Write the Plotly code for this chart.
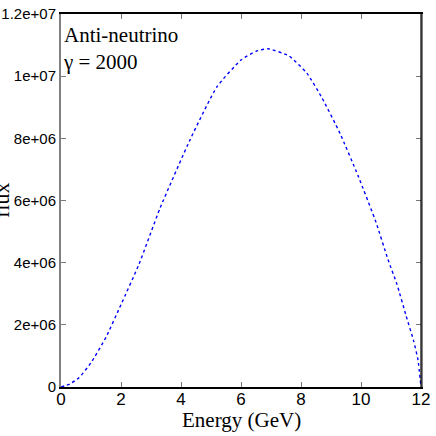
import plotly.graph_objects as go

# flux spectrum (energy in GeV)
energy = [0.0, 0.3, 0.6, 1.0, 1.5, 2.0, 2.6, 3.3, 4.3, 5.2, 6.0, 6.5, 6.9,
          7.6, 8.2, 8.7, 9.3, 9.9, 10.5, 10.9, 11.2, 11.5, 11.75, 11.9, 12.0]
flux = [0.0, 0.1e6, 0.3e6, 0.78e6, 1.6e6, 2.65e6, 3.95e6, 5.75e6, 7.95e6,
        9.66e6, 10.52e6, 10.8e6, 10.88e6, 10.65e6, 10.09e6, 9.3e6, 8.16e6,
        6.8e6, 5.3e6, 4.1e6, 3.3e6, 2.3e6, 1.5e6, 0.87e6, 0.0]

x_ticks = [0, 2, 4, 6, 8, 10, 12]
y_ticks = [0, 2e6, 4e6, 6e6, 8e6, 1e7, 1.2e7]
y_labels = ['0', '2e+06', '4e+06', '6e+06', '8e+06', '1e+07', '1.2e+07']

sans = "Liberation Sans, Arial, sans-serif"
serif = "Liberation Serif, Times New Roman, serif"

fig = go.Figure()
fig.add_trace(go.Scatter(
    x=energy, y=flux, mode='lines',
    line=dict(color='blue', width=1.4, dash='dot', shape='spline', smoothing=0.5),
    hoverinfo='none'
))

fig.update_layout(
    width=436, height=436,
    margin=dict(l=61, r=15, t=14, b=49),
    paper_bgcolor='white', plot_bgcolor='white',
    showlegend=False,
    xaxis=dict(
        range=[0, 12], tickvals=x_ticks, automargin=False,
        showgrid=False, zeroline=False,
        showline=True, linecolor='black', linewidth=1.5, mirror='ticks',
        ticks='inside', ticklen=5, tickcolor='#777777',
        tickfont=dict(family=sans, size=17, color='black'),
        ticklabelstandoff=-4,
    ),
    yaxis=dict(
        range=[0, 1.2e7], tickvals=y_ticks, ticktext=y_labels, automargin=False,
        showgrid=False, zeroline=False,
        showline=True, linecolor='#808080', linewidth=2, mirror='ticks',
        ticks='inside', ticklen=5, tickcolor='#777777',
        tickfont=dict(family=sans, size=15, color='black'),
    ),
)

# right border is black in the reference
fig.add_shape(type='line', xref='paper', yref='paper', x0=1, x1=1, y0=0, y1=1,
              line=dict(color='black', width=1.2))

fig.add_annotation(text='Anti-neutrino<br>γ = 2000', xref='paper', yref='paper',
                   x=0, y=1, xshift=0, yshift=-7, xanchor='left', yanchor='top',
                   align='left', showarrow=False,
                   font=dict(family=serif, size=21, color='black'))

fig.add_annotation(text='Energy (GeV)', xref='paper', yref='paper', x=0.5, y=0,
                   yshift=-19, xanchor='center', yanchor='top', showarrow=False,
                   font=dict(family=serif, size=21, color='black'))

fig.add_annotation(text='flux', xref='paper', yref='paper', x=0, y=0.5,
                   xshift=-74, textangle=-90, showarrow=False,
                   font=dict(family=serif, size=22, color='black'))

# page body has an 8px default margin; drop it so the figure sits at the corner
fig.write_html("out.html", config={'displayModeBar': False},
               post_script="document.body.style.margin='0px';")
